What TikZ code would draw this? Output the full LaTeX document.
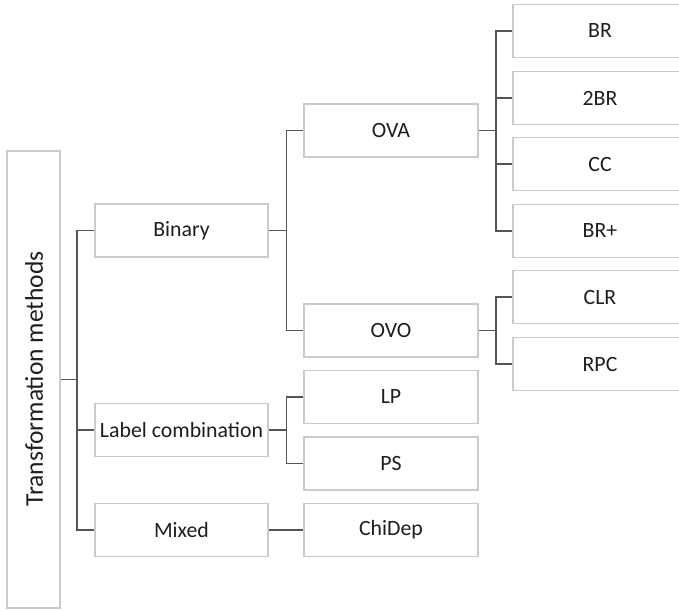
\documentclass[tikz,border=0pt]{standalone}
\usepackage{fontspec}
\setmainfont{Carlito}
\begin{document}
\begin{tikzpicture}[x=1pt,y=-1pt,
  box/.style={draw=boxgrey, line width=1.3pt, fill=white, text=txt,
    minimum width=174pt, minimum height=53pt, inner sep=0pt,
    font=\fontsize{21.8}{26}\selectfont},
  conn/.style={draw=linegrey, line width=1.5pt}]
\definecolor{boxgrey}{HTML}{CBCBCB}
\definecolor{linegrey}{HTML}{555555}
\definecolor{txt}{HTML}{1E1E1E}
\useasboundingbox (0,0) rectangle (679,610);
\clip (0,0) rectangle (679,610);

% root
\node[box, minimum width=53pt, minimum height=457pt] (root) at (33.5,379.5) {};
\node[text=txt, rotate=90, font=\fontsize{25.5}{30}\selectfont] (rootlbl) at (34,379) {Transformation methods};

% first level
\node[box, minimum width=173pt] (binary) at (181.5,230.5) {Binary};
\node[box, minimum width=173pt] (labc)   at (181.5,430) {Label combination};
\node[box, minimum width=173pt] (mixed)  at (181.5,530) {Mixed};

% second level
\node[box] (ova)    at (391,130.5) {OVA};
\node[box] (ovo)    at (391,330.5) {OVO};
\node[box] (lp)     at (391,397) {LP};
\node[box] (ps)     at (391,463.5) {PS};
\node[box] (chidep) at (391,530) {ChiDep};

% third level
\node[box] (br)   at (600,31) {BR};
\node[box] (tbr)  at (600,98) {2BR};
\node[box] (cc)   at (600,164) {CC};
\node[box] (brp)  at (600,231) {BR+};
\node[box] (clr)  at (600,297) {CLR};
\node[box] (rpc)  at (600,364) {RPC};

% trunk positions
\coordinate (xa) at (77,0);
\coordinate (xb) at (286.5,0);
\coordinate (xc) at (496,0);

% root -> first level
\draw[conn] (root.east) -- (root.east -| xa);
\draw[conn] (binary.west) -- (binary.west -| xa) -- (mixed.west -| xa) -- (mixed.west);
\draw[conn] (labc.west) -- (labc.west -| xa);

% binary -> OVA / OVO
\draw[conn] (binary.east) -- (binary.east -| xb);
\draw[conn] (ova.west) -- (ova.west -| xb) -- (ovo.west -| xb) -- (ovo.west);

% label combination -> LP / PS
\draw[conn] (labc.east) -- (labc.east -| xb);
\draw[conn] (lp.west) -- (lp.west -| xb) -- (ps.west -| xb) -- (ps.west);

% mixed -> ChiDep
\draw[conn] (mixed.east) -- (chidep.west);

% OVA -> BR, 2BR, CC, BR+
\draw[conn] (ova.east) -- (ova.east -| xc);
\draw[conn] (br.west) -- (br.west -| xc) -- (brp.west -| xc) -- (brp.west);
\draw[conn] (tbr.west) -- (tbr.west -| xc);
\draw[conn] (cc.west) -- (cc.west -| xc);

% OVO -> CLR, RPC
\draw[conn] (ovo.east) -- (ovo.east -| xc);
\draw[conn] (clr.west) -- (clr.west -| xc) -- (rpc.west -| xc) -- (rpc.west);
\end{tikzpicture}
\end{document}
